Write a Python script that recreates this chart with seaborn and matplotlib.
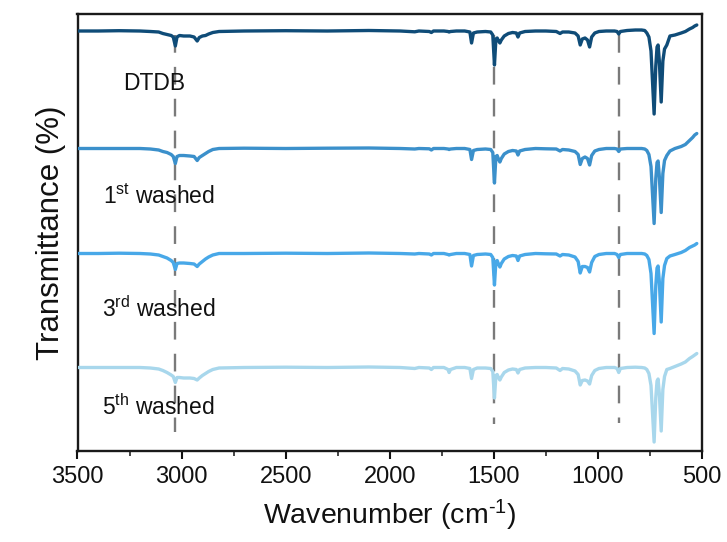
import numpy as np
import pandas as pd
import matplotlib
matplotlib.use("Agg")
import matplotlib.pyplot as plt
from matplotlib.ticker import MultipleLocator
import seaborn as sns

# ---------------- data ----------------
wavenumber = [3500, 3400, 3300, 3200, 3150, 3110, 3090, 3070, 3050, 3040, 3030, 3022,
              3010, 2990, 2960, 2940, 2925, 2915, 2900, 2885, 2870, 2850, 2820, 2700,
              2500, 2300, 2100, 1950, 1880, 1860, 1810, 1800, 1790, 1740, 1720, 1715,
              1708, 1680, 1640, 1615, 1607, 1598, 1580, 1540, 1515, 1505, 1497, 1490,
              1484, 1477, 1471, 1464, 1450, 1430, 1410, 1392, 1384, 1376, 1350, 1300,
              1250, 1200, 1182, 1170, 1140, 1110, 1095, 1085, 1075, 1062, 1050, 1040,
              1030, 1015, 995, 960, 920, 908, 900, 892, 860, 820, 790, 775, 765, 755,
              745, 730, 722, 716, 711, 705, 696, 688, 680, 669, 654, 630, 600, 580,
              560, 545, 535, 525]

dtdb = [0, 0, 0.3, 0, -0.5, -1, -2.5, -3.5, -4.5, -6, -15, -6,
        -4.5, -5, -5, -6, -10, -6.5, -5, -4.5, -3, -1.5, -0.5, 0,
        0.3, 0, 0.5, 0, -0.8, 0, -0.5, -1.5, 0, 0, -0.5, -1,
        -0.5, 0, 0, -1, -12, -2, -1, -0.5, -1, -4, -34, -8,
        -7, -10, -12, -9, -5, -2.5, -1.5, -2, -6, -2, -0.5, 0,
        0, -0.5, -2.5, -1, -1, -2, -5, -14, -8, -7, -9, -16,
        -6, -2, -0.5, 0, 0, -0.5, -3, -0.5, 0.5, 1, 1, 0.5, -2, -6,
        -20, -83, -35, -16, -14, -30, -71, -30, -18, -14, -5, -4, -2, -0.5,
        2, 3.5, 5, 6]

washed_1st = [0, 0, 0, 0, -0.5, -1.5, -3, -4, -6, -8, -15, -8,
              -7, -7, -7.5, -8, -12, -9, -7, -5, -3, -1, 0, 0.3,
              0, 0.3, 0.5, 0, -0.5, 0, -0.3, -1.5, 0, 0, -0.5, -1,
              -0.5, 0, 0, -1, -11, -2, -1, -0.5, -1, -4, -34.5, -8,
              -7, -11, -13.5, -10, -5.5, -3, -2, -2.5, -6.5, -2.5, -1, 0,
              -0.3, -0.5, -2.5, -1, -1.5, -3, -6, -16, -10, -8.5, -10, -16.5,
              -7, -2.5, -1, 0, 0, -0.5, -3, -0.5, 0, 0, 0, -0.5, -2, -6,
              -18, -75, -30, -14, -12.5, -28, -64, -25, -12, -7, -2.5, 0, 2, 4,
              8, 11, 13.5, 15]

washed_3rd = [0, 0, 0.3, 0, -0.5, -1.5, -3, -4.5, -7, -9, -16, -10,
              -9.5, -9.5, -10, -10.5, -13, -10.5, -8, -5.5, -3.5, -1.5, 0, 0,
              0.3, 0, 0.5, 0, -0.5, 0, -0.5, -1.5, 0, 0, -1, -1.5,
              -1, 0, 0, -1, -12.5, -2, -1, -0.5, -1, -4, -31.5, -8,
              -7, -11, -13.5, -10, -5.5, -3, -2, -2.5, -7, -2.5, -1, 0,
              -0.3, -0.5, -2.5, -1, -1.5, -3.5, -8, -19.5, -13, -13, -14, -18.5,
              -9, -3, -1, 0, 0, -1, -4, -1, 0, 0, 0, -0.5, -2, -6,
              -20, -80, -32, -14.5, -12.5, -28, -68.5, -25, -12, -5, -2.5, -1, 1, 3,
              6, 7.5, 8.5, 10]

washed_5th = [0, 0, 0, 0, -0.5, -1.5, -3, -5, -7.5, -9, -15, -10,
              -10, -10.5, -10.5, -11, -12.5, -10.5, -8, -6, -4, -2, -0.5, 0,
              0.3, 0, 0.5, 0, -1, 0, -0.5, -2, 0, 0, -2, -5,
              -2, 0, 0, -1, -11, -2, -0.5, -0.5, -1, -4, -30.5, -8,
              -7, -10.5, -12.5, -9.5, -5, -2.5, -1.5, -2, -5.5, -2, -0.5, 0,
              0, -0.5, -3, -1, -1.5, -3.5, -7, -17.5, -13, -12.5, -13.5, -16.5,
              -8, -3, -1, 0, 0, -1, -5, -1, 0, 0.3, 0, -0.5, -2, -6,
              -18, -74.5, -30, -13.5, -11.5, -26, -63.5, -22, -9, -2, -1, 1, 3.5, 5.5,
              9, 11, 12.5, 14]

samples = ["DTDB", "1st washed", "3rd washed", "5th washed"]
sample_labels = ["DTDB", r"1$^{\mathrm{st}}$ washed", r"3$^{\mathrm{rd}}$ washed",
                 r"5$^{\mathrm{th}}$ washed"]
series = [dtdb, washed_1st, washed_3rd, washed_5th]
marker_peaks = [3030, 1500, 900]
x_ticks = [3500, 3000, 2500, 2000, 1500, 1000, 500]

# ---------------- layout / style ----------------
offsets = [420, 302.5, 197.5, 83.5]
colors = ["#0f4c78", "#3b90cb", "#48a8e8", "#a8d7ec"]
label_pos = [(3281, 368), (3377, 254), (3382, 142), (3382, 44)]
dash_ranges = [(416, 19), (416, 27), (416, 28)]

frames = []
for name, vals, off in zip(samples, series, offsets):
    frames.append(pd.DataFrame({"wn": wavenumber,
                                "T": np.asarray(vals, float) + off,
                                "sample": name}))
df = pd.concat(frames, ignore_index=True)

sns.set_theme(style="ticks")
plt.rcParams["font.family"] = ["Liberation Sans", "DejaVu Sans"]
plt.rcParams["mathtext.fontset"] = "custom"
plt.rcParams["mathtext.rm"] = "Liberation Sans"
plt.rcParams["mathtext.it"] = "Liberation Sans:italic"
plt.rcParams["mathtext.bf"] = "Liberation Sans:bold"

fig = plt.figure(figsize=(7.27, 5.42), dpi=100)
ax = fig.add_axes([77.5 / 727, 1 - 451 / 542, (702 - 77.5) / 727, (451 - 14) / 542])

# reference dashed lines
for xp, (y0, y1) in zip(marker_peaks, dash_ranges):
    ax.plot([xp, xp], [y0, y1], color="#7a7a7a", lw=1.7, dashes=(7.5, 6.0), zorder=1)

sns.lineplot(data=df, x="wn", y="T", hue="sample", hue_order=samples,
             palette=colors, estimator=None, sort=True, linewidth=2.4,
             legend=False, ax=ax, zorder=3)

for (tx, ty), lab in zip(label_pos, sample_labels):
    ax.text(tx, ty, lab, fontsize=16.5, color="#111111", ha="left", va="center")

ax.set_xlim(3500, 500)
ax.set_ylim(0, 437)
ax.set_xticks(x_ticks)
ax.xaxis.set_minor_locator(MultipleLocator(250))
ax.set_yticks([])
ax.tick_params(axis="x", which="major", direction="out", length=6, width=1.5,
               labelsize=17, colors="#111111", pad=5)
ax.tick_params(axis="x", which="minor", direction="out", length=3.5, width=1.2)
for s in ax.spines.values():
    s.set_visible(True)
    s.set_linewidth(1.7)
    s.set_color("#1a1a1a")

ax.set_xlabel(r"Wavenumber (cm$^{\text{-1}}$)", fontsize=20.5, color="#111111", labelpad=7)
ax.set_ylabel("Transmittance (%)", fontsize=22.5, color="#111111", labelpad=8)

fig.savefig("out.png", dpi=100)
